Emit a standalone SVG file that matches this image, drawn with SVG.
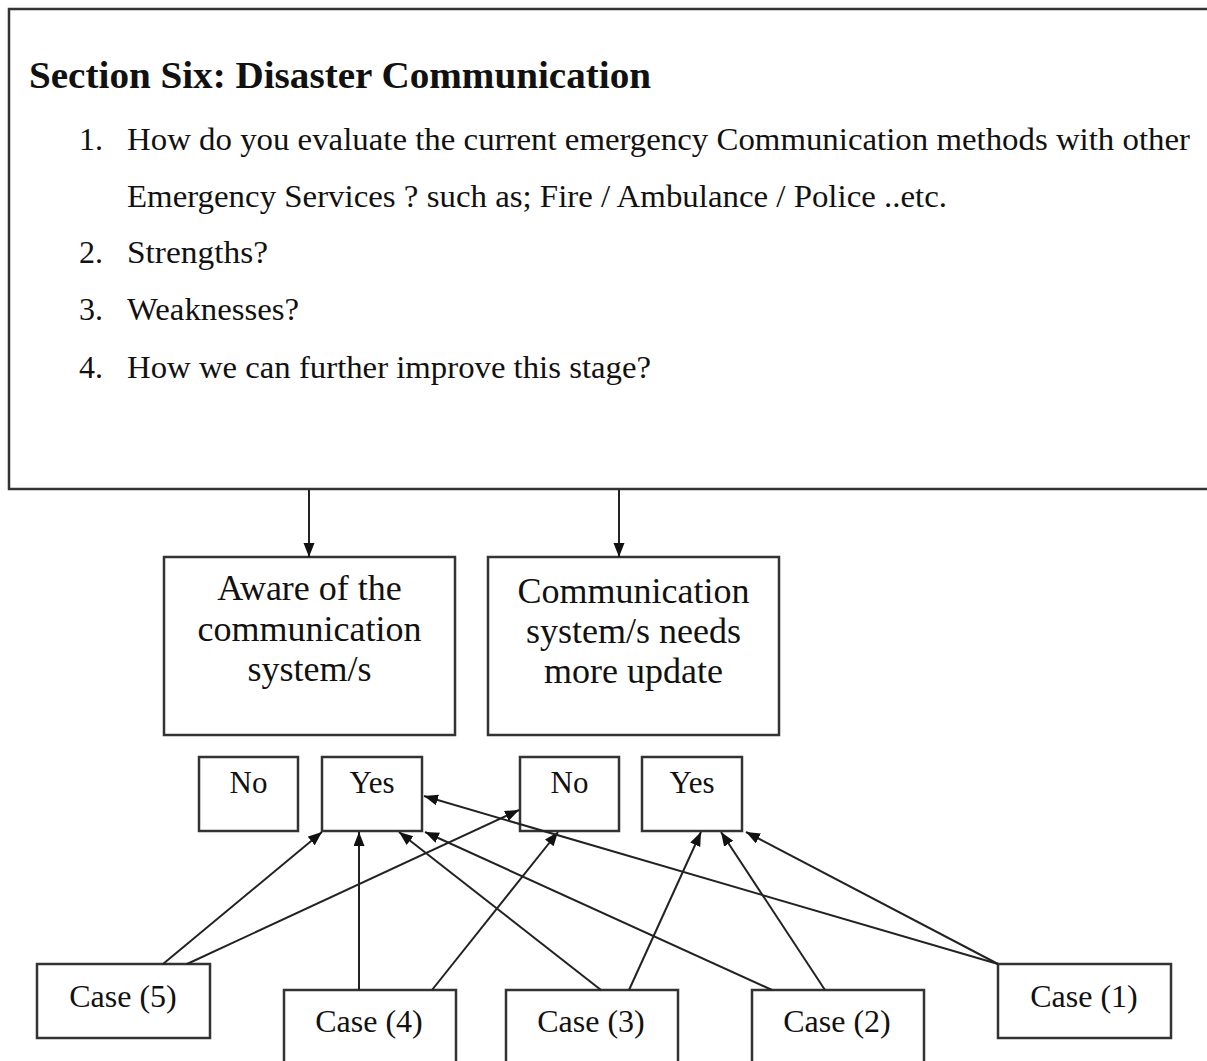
<svg xmlns="http://www.w3.org/2000/svg" width="1207" height="1061" viewBox="0 0 1207 1061">
  <defs>
    <marker id="arrow" markerUnits="userSpaceOnUse" markerWidth="15" markerHeight="12" refX="14" refY="5.5" orient="auto">
      <path d="M0,0 L14,5.5 L0,11 z" fill="#111"/>
    </marker>
  </defs>
  <style>
    .box { fill: #fff; stroke: #333; stroke-width: 2.5; }
    .edge { fill: none; stroke: #222; stroke-width: 2; marker-end: url(#arrow); }
    .title { font-family: "Liberation Serif", "Times New Roman", serif; font-weight: bold; font-size: 38.5px; fill: #111; }
    .body { font-family: "Liberation Serif", "Times New Roman", serif; font-size: 32px; fill: #111; }
    .big { font-family: "Liberation Serif", "Times New Roman", serif; font-size: 36px; fill: #111; text-anchor: middle; }
    .small { font-family: "Liberation Serif", "Times New Roman", serif; font-size: 31px; fill: #111; text-anchor: middle; }
    .case { font-family: "Liberation Serif", "Times New Roman", serif; font-size: 32px; fill: #111; text-anchor: middle; }
  </style>
  <rect width="1207" height="1061" fill="#fff"/>

  <!-- question panel -->
  <g id="section-six">
    <rect class="box" x="9" y="9" width="1220" height="480"/>
    <text class="title" x="29" y="88" textLength="622" lengthAdjust="spacingAndGlyphs">Section Six: Disaster Communication</text>
    <text class="body" x="79" y="150">1.</text>
    <text class="body" x="127" y="150" textLength="1063" lengthAdjust="spacingAndGlyphs">How do you evaluate the current emergency  Communication methods with other</text>
    <text class="body" x="127" y="207" textLength="820" lengthAdjust="spacingAndGlyphs">Emergency Services ? such as; Fire / Ambulance / Police ..etc.</text>
    <text class="body" x="79" y="263">2.</text>
    <text class="body" x="127" y="263" textLength="141" lengthAdjust="spacingAndGlyphs">Strengths?</text>
    <text class="body" x="79" y="320">3.</text>
    <text class="body" x="127" y="320" textLength="172" lengthAdjust="spacingAndGlyphs">Weaknesses?</text>
    <text class="body" x="79" y="378">4.</text>
    <text class="body" x="127" y="378" textLength="524" lengthAdjust="spacingAndGlyphs">How we can further improve this stage?</text>
  </g>

  <!-- themes -->
  <g id="aware">
    <rect class="box" x="164" y="557" width="291" height="178"/>
    <text class="big" x="309.5" y="600">Aware of the</text>
    <text class="big" x="309.5" y="641">communication</text>
    <text class="big" x="309.5" y="681">system/s</text>
  </g>
  <g id="needs-update">
    <rect class="box" x="488" y="557" width="291" height="178"/>
    <text class="big" x="633.5" y="603">Communication</text>
    <text class="big" x="633.5" y="643">system/s needs</text>
    <text class="big" x="633.5" y="683">more update</text>
  </g>

  <!-- answers -->
  <g id="aware-no">
    <rect class="box" x="199" y="757" width="99" height="74"/>
    <text class="small" x="248.5" y="793">No</text>
  </g>
  <g id="aware-yes">
    <rect class="box" x="322" y="757" width="100" height="74"/>
    <text class="small" x="372" y="793">Yes</text>
  </g>
  <g id="update-no">
    <rect class="box" x="520" y="757" width="99" height="74"/>
    <text class="small" x="569.5" y="793">No</text>
  </g>
  <g id="update-yes">
    <rect class="box" x="642" y="757" width="100" height="74"/>
    <text class="small" x="692" y="793">Yes</text>
  </g>

  <!-- cases -->
  <g id="case-5">
    <rect class="box" x="37" y="964" width="173" height="74"/>
    <text class="case" x="123" y="1007">Case (5)</text>
  </g>
  <g id="case-4">
    <rect class="box" x="284" y="990" width="172" height="90"/>
    <text class="case" x="369" y="1032">Case (4)</text>
  </g>
  <g id="case-3">
    <rect class="box" x="506" y="990" width="172" height="90"/>
    <text class="case" x="591" y="1032">Case (3)</text>
  </g>
  <g id="case-2">
    <rect class="box" x="752" y="990" width="172" height="90"/>
    <text class="case" x="837" y="1032">Case (2)</text>
  </g>
  <g id="case-1">
    <rect class="box" x="998" y="964" width="173" height="74"/>
    <text class="case" x="1084" y="1007">Case (1)</text>
  </g>

  <!-- connectors -->
  <g id="connectors">
    <line class="edge" x1="309" y1="490" x2="309" y2="557"/>
    <line class="edge" x1="619" y1="490" x2="619" y2="557"/>
    <line class="edge" x1="163" y1="964" x2="322" y2="832"/>
    <line class="edge" x1="187" y1="964" x2="519" y2="810"/>
    <line class="edge" x1="359" y1="990" x2="359" y2="832"/>
    <line class="edge" x1="432" y1="990" x2="558" y2="832"/>
    <line class="edge" x1="601" y1="990" x2="399" y2="832"/>
    <line class="edge" x1="629" y1="990" x2="701" y2="832"/>
    <line class="edge" x1="772" y1="990" x2="425" y2="832"/>
    <line class="edge" x1="825" y1="990" x2="721" y2="832"/>
    <line class="edge" x1="998" y1="964" x2="424" y2="796"/>
    <line class="edge" x1="998" y1="964" x2="746" y2="832"/>
  </g>
</svg>
